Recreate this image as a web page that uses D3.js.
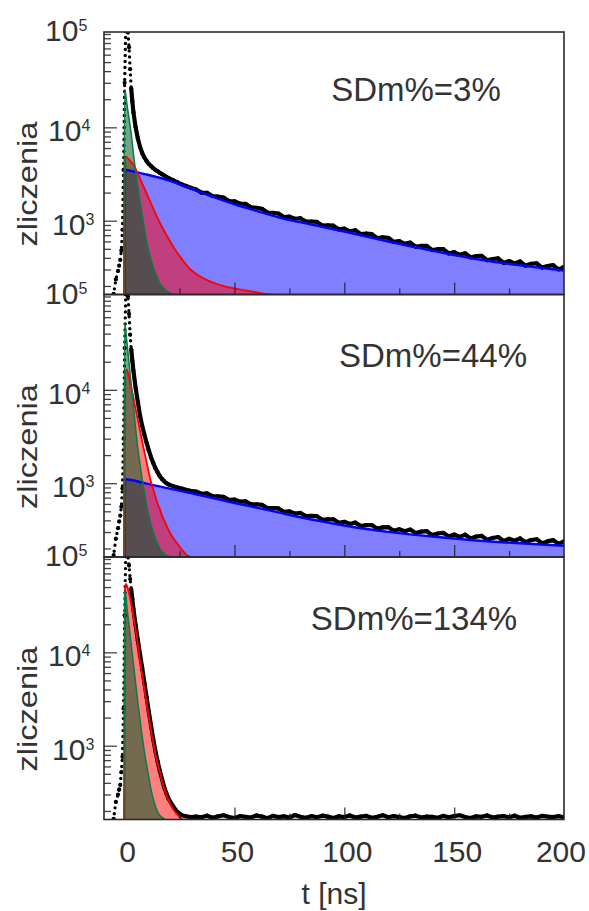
<!DOCTYPE html>
<html><head><meta charset="utf-8">
<script src="https://cdn.jsdelivr.net/npm/d3@7"></script>
<style>body{margin:0;background:#fff} svg{display:block}</style>
</head><body>
<svg id="chart" width="589" height="911"></svg>
<script>
// ---------- data ----------
const panelLabels = ["SDm%=3%", "SDm%=44%", "SDm%=134%"];
const xTickValues = [0, 50, 100, 150, 200];
const xMajorTicks = [50, 100, 150];
const xMinorTicks = [25, 75, 125, 175];
const yMajorTicks = [1000, 10000];
const yMinorTicks = [200,300,400,500,600,700,800,900,2000,3000,4000,5000,6000,7000,8000,9000,20000,30000,40000,50000,60000,70000,80000,90000,100000];
const yLabelExponents = [5, 4, 3];
const yLabelText = "zliczenia";
const xLabelText = "t [ns]";

// measured decay (time, ns)
const tData = [-6,-5,-4,-3,-2.5,-2,-1.5,-1,-0.5,0,0.5,1,1.5,2,2.5,3,3.5,4,5,6,7,8,9,10,11,12,13,14,15,16,17,18,19,20,22,24,26,28,30,
32.5,35,37.5,40,42.5,45,47.5,50,52.5,55,57.5,60,62.5,65,67.5,70,72.5,75,77.5,80,82.5,85,87.5,90,92.5,95,97.5,100,
102.5,105,107.5,110,112.5,115,117.5,120,122.5,125,127.5,130,132.5,135,137.5,140,142.5,145,147.5,150,152.5,155,157.5,160,
162.5,165,167.5,170,172.5,175,177.5,180,182.5,185,187.5,190,192.5,195,197.5,200];

const countsA = [140,165,235,290,330,380,480,800,3500,30000,110000,130000,105000,72000,42000,26000,19000,14500,10000,7600,6200,5300,4750,4350,4050,3850,3650,3500,3380,3250,3150,3050,2940,2860,2720,2580,2450,2350,2260,
2160,2000,1993,1838,1812,1768,1623,1616,1523,1514,
1391,1376,1340,1224,1211,1195,1096,1107,1048,1063,
980,981,970,887,891,885,809,821,769,789,
717,727,719,651,662,656,593,606,566,583,
526,539,537,484,495,497,446,462,431,448,
404,417,420,377,389,394,353,370,349,366,
330,345,350,315,326,334,301,319];

const countsB = [140,170,255,330,390,450,560,880,3000,28000,105000,125000,100000,65000,39000,27000,20500,16000,10500,7400,5300,4100,3300,2700,2250,1900,1650,1450,1310,1190,1110,1050,1000,970,930,900,875,850,830,
815,771,777,726,723,714,662,668,635,640,
593,595,585,542,540,537,493,499,473,480,
444,446,443,406,410,411,377,386,365,378,
347,356,356,326,336,338,310,321,306,319,
292,303,306,278,289,294,268,282,266,281,
256,268,273,248,259,265,240,254,242,256,
233,246,251,228,238,246,224,238];

const countsC = [140,165,250,300,340,380,520,760,2500,25000,110000,130000,110000,85000,61000,47000,37000,29000,19500,13500,9500,6800,4700,3300,2300,1650,1180,880,680,540,440,360,310,270,225,195,180,175,172,
174,171,178,169,175,180,172,168,176,173,
170,179,174,167,177,172,175,170,181,173,
169,176,171,178,174,168,175,172,179,170,
174,177,169,173,180,171,176,172,168,175,
178,170,174,173,169,177,171,176,180,172,
168,175,173,179,170,174,176,171,178,169,
173,175,170,177,174,172,176,171];

// fitted components [t, counts]
const greenA = [[-0.4,150],[0,25500],[1,18000],[2,12500],[3,8500],[4,5200],[5,3400],[6,2300],[7,1600],[8,1150],[9,820],[10,600],[11,470],[12,380],[14,275],[16,215],[18,188],[20,172],[22,164],[24,158]];
const redA = [[0,150],[0.1,4500],[0.5,4860],[2,4500],[4,3970],[6,3200],[8,2500],[10,1960],[12,1530],[14,1200],[16,950],[18,780],[20,640],[23,490],[26,390],[30,300],[34,255],[38,228],[42,210],[46,197],[50,188],[55,179],[60,171],[65,163],[70,158]];
const blueA = [[0,150],[0.1,3500],[5,3330],[10,3120],[20,2700],[30,2220],[40,1810],[50,1500],[60,1275],[70,1090],[80,965],[90,860],[100,765],[110,678],[120,600],[130,532],[140,478],[150,430],[160,388],[170,358],[180,333],[190,312],[200,292]];

const greenB = [[-0.4,150],[0,52000],[1,33000],[2,19500],[3,11500],[4,6600],[5,3900],[6,2350],[7,1600],[8,1100],[9,800],[10,580],[11,450],[12,360],[13,300],[14,255],[15,225],[16,200],[18,175],[20,165],[22,160]];
const redB = [[0,150],[0.1,15500],[1,16500],[2,13500],[3,10500],[4,8300],[5,6200],[6,4800],[7,3650],[8,2800],[9,2150],[10,1680],[11,1300],[12,1030],[13,860],[14,720],[15,600],[16,530],[17,450],[18,400],[19,355],[20,315],[22,260],[24,225],[26,195],[28,172],[30,162],[32,157]];
const blueB = [[0,150],[0.1,1100],[10,990],[20,880],[30,785],[40,695],[50,615],[60,548],[70,487],[80,432],[90,388],[100,352],[110,323],[120,301],[130,283],[140,268],[150,255],[160,244],[170,235],[180,227],[190,220],[200,214]];

const greenC = [[-0.4,150],[0,44000],[0.3,44500],[1,31000],[2,19500],[3,12000],[4,7600],[5,4700],[6,2900],[7,1900],[8,1250],[9,860],[10,620],[11,460],[12,340],[13,270],[14,225],[15,195],[16,180],[18,165],[19,160]];
const redC = [[0,150],[0.1,45000],[0.6,54000],[2,43000],[3,33000],[4,24500],[5,17500],[6,12500],[7,8000],[8,5700],[9,4000],[10,2850],[11,2050],[12,1450],[13,1080],[14,810],[15,640],[16,530],[17,420],[18,350],[19,295],[20,260],[21,232],[22,210],[23,195],[24,182],[25,172],[26,165],[27,160]];

// ---------- layout ----------
const FONT = "'Liberation Sans', Arial, Helvetica, sans-serif";
const TXT = "#333";
const xLeft = 104, xRight = 564;
const panelTops = [32, 294.5, 557];
const panelH = 262.5;
const yDomain = [162, 105000];

const svg = d3.select("#chart");
const x = d3.scaleLinear().domain([-9.4, 200]).range([xLeft, xRight]);

const panels = [
  {label: panelLabels[0], counts: countsA, comps: [[blueA,"#0000ff",0.5,"#0000ff",2.5],[redA,"#ff0000",0.5,"#ff0000",1.8],[greenA,"#005a2a",0.55,"#0b7a45",1.5]], lab:[416,69]},
  {label: panelLabels[1], counts: countsB, comps: [[blueB,"#0000ff",0.5,"#0000ff",2.5],[redB,"#ff0000",0.5,"#ff0000",1.8],[greenB,"#005a2a",0.55,"#0b7a45",1.5]], lab:[433,72.5]},
  {label: panelLabels[2], counts: countsC, comps: [[redC,"#ff0000",0.5,"#ff0000",1.8],[greenC,"#005a2a",0.55,"#0b7a45",1.5]], lab:[414,73]}
];

panels.forEach((p, i) => {
  const top = panelTops[i], bottom = top + panelH;
  const y = d3.scaleLog().domain(yDomain).range([bottom, top]);
  const clipId = "clip" + i;
  svg.append("clipPath").attr("id", clipId).append("rect")
    .attr("x", xLeft).attr("y", top).attr("width", xRight - xLeft).attr("height", panelH);
  const g = svg.append("g").attr("clip-path", `url(#${clipId})`);

  const area = d3.area().x(d => x(d[0])).y0(bottom).y1(d => y(d[1])).curve(d3.curveMonotoneX);
  const line = d3.line().x(d => x(d[0])).y(d => y(d[1])).curve(d3.curveMonotoneX);

  p.comps.forEach(c => {
    g.append("path").datum(c[0]).attr("d", area).attr("fill", c[1]).attr("fill-opacity", c[2]).attr("stroke", "none");
  });

  const pts = tData.map((t, k) => [t, p.counts[k]]);
  const dataLine = d3.line().x(d => x(d[0])).y(d => y(d[1]));
  // rising edge and peak: separate dots, as in the photographed data
  g.append("path").datum(pts.filter(d => d[0] <= 3)).attr("d", dataLine)
    .attr("fill", "none").attr("stroke", "#000").attr("stroke-width", 3.4)
    .attr("stroke-linecap", "round").attr("stroke-dasharray", "0,6");
  // dense decay: continuous noisy band
  g.append("path").datum(pts.filter(d => d[0] >= 3)).attr("d", dataLine)
    .attr("fill", "none").attr("stroke", "#000").attr("stroke-width", 4.2).attr("stroke-linejoin", "round").attr("stroke-linecap", "round");
  g.selectAll("circle.pt").data(pts).join("circle").attr("class", "pt")
    .attr("cx", d => x(d[0])).attr("cy", d => y(d[1])).attr("r", 2.1).attr("fill", "#000");

  p.comps.forEach(c => {
    g.append("path").datum(c[0]).attr("d", line).attr("fill", "none").attr("stroke", c[3]).attr("stroke-width", c[4]);
  });

  // inward ticks on left axis
  const axL1 = svg.append("g").attr("transform", `translate(${xLeft},0)`)
    .call(d3.axisRight(y).tickValues(yMinorTicks).tickSize(7).tickFormat(""));
  const axL2 = svg.append("g").attr("transform", `translate(${xLeft},0)`)
    .call(d3.axisRight(y).tickValues(yMajorTicks).tickSize(13).tickFormat(""));
  // inward ticks on bottom axis
  const axB1 = svg.append("g").attr("transform", `translate(0,${bottom})`)
    .call(d3.axisTop(x).tickValues(xMinorTicks).tickSize(6).tickFormat(""));
  const axB2 = svg.append("g").attr("transform", `translate(0,${bottom})`)
    .call(d3.axisTop(x).tickValues(xMajorTicks).tickSize(12).tickFormat(""));
  [axL1, axL2, axB1, axB2].forEach(a => {
    a.select(".domain").remove();
    a.selectAll("line").attr("stroke", "#222").attr("stroke-width", 1.3).attr("stroke-opacity", 0.85);
  });

  // frame
  svg.append("rect").attr("x", xLeft).attr("y", top).attr("width", xRight - xLeft).attr("height", panelH)
    .attr("fill", "none").attr("stroke", "#2a2a2a").attr("stroke-width", 1.6);

  // y tick labels
  const labVals = [100000, 10000, 1000];
  labVals.forEach((v, k) => {
    const base = k === 0 ? top + 9 : y(v) + 14;
    const xs = k === 2 ? 52 : (k === 0 ? 45 : 48);
    const t = svg.append("text").attr("x", xs).attr("y", base)
      .attr("font-family", FONT).attr("font-size", 30).attr("fill", TXT);
    t.append("tspan").text("10");
    t.append("tspan").attr("dy", -10).attr("font-size", 16).text(yLabelExponents[k]);
  });

  // y axis title
  svg.append("text").attr("transform", `translate(37,${top + 152}) rotate(-90)`)
    .attr("text-anchor", "middle").attr("font-family", FONT).attr("font-size", 28)
    .attr("textLength", 125).attr("lengthAdjust", "spacingAndGlyphs")
    .attr("fill", TXT).text(yLabelText);

  // panel annotation
  svg.append("text").attr("x", p.lab[0]).attr("y", top + p.lab[1]).attr("text-anchor", "middle")
    .attr("font-family", FONT).attr("font-size", 33).attr("fill", TXT).text(p.label);
});

// x tick labels
xTickValues.forEach((v, k) => {
  const last = k === xTickValues.length - 1;
  svg.append("text").attr("x", last ? 586 : x(v) + 3).attr("y", 862)
    .attr("text-anchor", last ? "end" : "middle")
    .attr("font-family", FONT).attr("font-size", 30).attr("fill", TXT).text(v);
});
svg.append("text").attr("x", 334).attr("y", 904).attr("text-anchor", "middle")
  .attr("font-family", FONT).attr("font-size", 30).attr("fill", TXT).text(xLabelText);
</script>
</body></html>
